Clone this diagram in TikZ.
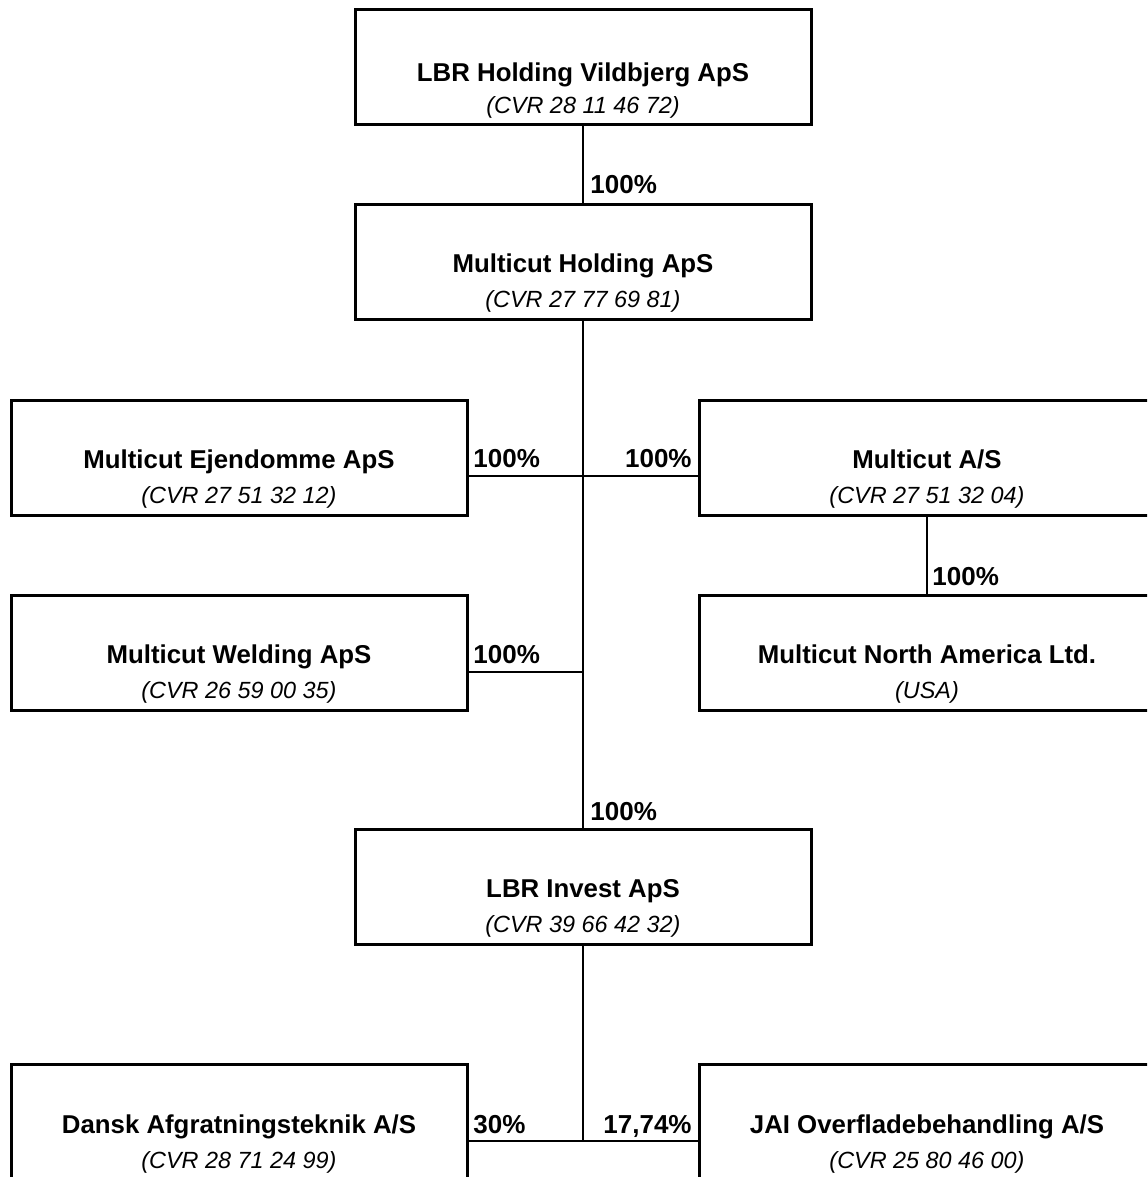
\documentclass[tikz,border=0pt]{standalone}
\usepackage{fontspec}
\setmainfont{Liberation Sans}
\begin{document}
\begin{tikzpicture}[x=0.5pt,y=-0.5pt,
  box/.style={draw=black,line width=1.5pt,rectangle,minimum width=228pt,minimum height=57.5pt,inner sep=0pt,fill=white},
  cname/.style={anchor=base,inner sep=0pt,font=\fontsize{12.9pt}{15pt}\selectfont\bfseries},
  cvr/.style={anchor=base,inner sep=0pt,font=\fontsize{11.7pt}{14pt}\selectfont\itshape},
  pct/.style={inner sep=0pt,font=\fontsize{13pt}{15pt}\selectfont\bfseries},
  link/.style={draw=black,line width=1.1pt}]
\clip (0,0) rectangle (1147,1177);
\fill[white] (0,0) rectangle (1147,1177);

% junction coordinates
\coordinate (j1) at (583,476);
\coordinate (j2) at (583,672);
\coordinate (j3) at (583,1141);

% boxes
\node[box] (A) at (583,67) {};
\node[box] (B) at (583,261.5) {};
\node[box] (C) at (239,457.5) {};
\node[box] (D) at (927,457.5) {};
\node[box] (E) at (239,653) {};
\node[box] (F) at (927,653) {};
\node[box] (G) at (583,887) {};
\node[box] (H) at (239,1122) {};
\node[box] (I) at (927,1122) {};

% connectors
\draw[link] (A.south) -- (B.north);
\draw[link] (B.south) -- (G.north);
\draw[link] (C.east |- j1) -- (D.west |- j1);
\draw[link] (E.east |- j2) -- (j2);
\draw[link] (D.south) -- (F.north);
\draw[link] (G.south) -- (j3);
\draw[link] (H.east |- j3) -- (I.west |- j3);

% texts
\node[cname] (An) at (583,82) {LBR Holding Vildbjerg ApS};
\node[cvr] (Ac) at (583,113) {(CVR 28 11 46 72)};
\node[cname] (Bn) at (583,272) {Multicut Holding ApS};
\node[cvr] (Bc) at (583,307) {(CVR 27 77 69 81)};
\node[cname] (Cn) at (239,468) {Multicut Ejendomme ApS};
\node[cvr] (Cc) at (239,503) {(CVR 27 51 32 12)};
\node[cname] (Dn) at (927,468) {Multicut A/S};
\node[cvr] (Dc) at (927,503) {(CVR 27 51 32 04)};
\node[cname] (En) at (239,663) {Multicut Welding ApS};
\node[cvr] (Ec) at (239,698) {(CVR 26 59 00 35)};
\node[cname] (Fn) at (927,663) {Multicut North America Ltd.};
\node[cvr] (Fc) at (927,698) {(USA)};
\node[cname] (Gn) at (583,897) {LBR Invest ApS};
\node[cvr] (Gc) at (583,932) {(CVR 39 66 42 32)};
\node[cname] (Hn) at (239,1133) {Dansk Afgratningsteknik A/S};
\node[cvr] (Hc) at (239,1168) {(CVR 28 71 24 99)};
\node[cname] (In) at (927,1133) {JAI Overfladebehandling A/S};
\node[cvr] (Ic) at (927,1168) {(CVR 25 80 46 00)};

% percentages
\node[pct,anchor=base west] (pAB) at (590,193) {100\%};
\node[pct,anchor=base west] (pC) at (473,467) {100\%};
\node[pct,anchor=base east] (pD) at (692,467) {100\%};
\node[pct,anchor=base west] (pE) at (473,663) {100\%};
\node[pct,anchor=base west] (pF) at (932,585) {100\%};
\node[pct,anchor=base west] (pG) at (590,820) {100\%};
\node[pct,anchor=base west] (pH) at (473,1133) {30\%};
\node[pct,anchor=base east] (pI) at (692,1133) {17,74\%};
\end{tikzpicture}
\end{document}
